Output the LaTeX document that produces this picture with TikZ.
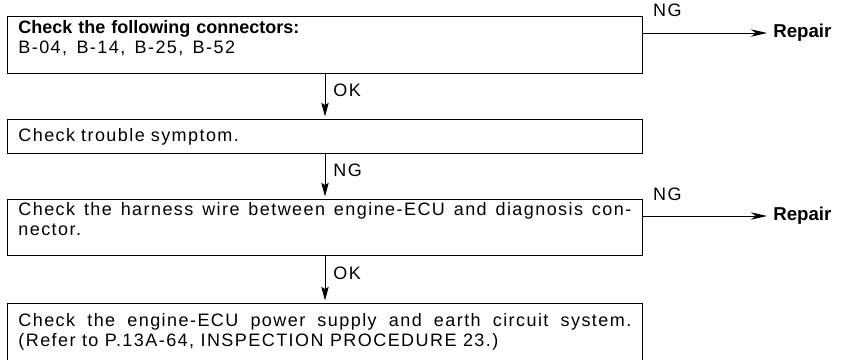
\documentclass[tikz,border=0pt]{standalone}
\usepackage{fontspec}
\setmainfont{Liberation Sans}[LetterSpace=8,BoldFeatures={LetterSpace=0}]
\usetikzlibrary{arrows.meta, positioning, calc}

\begin{document}
\begin{tikzpicture}[x=0.75pt, y=-0.75pt, >={Stealth[length=10pt, width=5.5pt, inset=1.5pt]}, every node/.style={font=\fontsize{13.5}{15}\selectfont},
  stepbox/.style={draw, line width=0.6pt, anchor=north west, minimum width=476.25pt, text width=459.75pt, inner xsep=8.25pt, inner ysep=0pt},
  flow/.style={->, line width=0.6pt, shorten >=2pt},
  sideflow/.style={-{Stealth[length=12pt, width=5.5pt, inset=3.5pt]}, line width=0.6pt},
  result/.style={anchor=west, inner xsep=4.5pt, font=\fontsize{14}{15}\selectfont\bfseries},
  tag/.style={anchor=base west, inner sep=0pt, xshift=6pt},
  tagup/.style={anchor=base west, inner sep=0pt, xshift=7.5pt, yshift=12pt}]
\useasboundingbox (0,0) rectangle (843,360);
\coordinate (axis) at (325,0);
\node[stepbox, align=left, text height=12.75pt, text depth=30pt] (conn) at (7,16) {\textbf{Check the following connectors:}\\B-04,\hspace{7pt}B-14,\hspace{7pt}B-25,\hspace{7pt}B-52};
\node[stepbox, align=left, text height=16.5pt, text depth=9pt] (sympt) at (7,119) {Check trouble symptom.};
\node[stepbox, align=justify, text height=12pt, text depth=30pt] (harn) at (7,199) {Check the harness wire between engine-ECU and diagnosis con-\linebreak nector.};
\node[stepbox, align=justify, text height=17.25pt, text depth=33pt] (power) at (7,303) {Check the engine-ECU power supply and earth circuit system.\linebreak (Refer to P.13A-64, INSPECTION PROCEDURE 23.)};
\node[result] (rep1) at (767,33) {Repair};
\node[result] (rep2) at (767,216) {Repair};
\draw[flow] (conn.south -| axis) -- (sympt.north -| axis) node[midway, tag]{OK};
\draw[flow] (sympt.south -| axis) -- (harn.north -| axis) node[midway, tag]{NG};
\draw[flow] (harn.south -| axis) -- (power.north -| axis) node[midway, tag]{OK};
\draw[sideflow] (conn.east |- rep1) -- (rep1.west) node[at start, tagup]{NG};
\draw[sideflow] (harn.east |- rep2) -- (rep2.west) node[at start, tagup]{NG};
\end{tikzpicture}
\end{document}
